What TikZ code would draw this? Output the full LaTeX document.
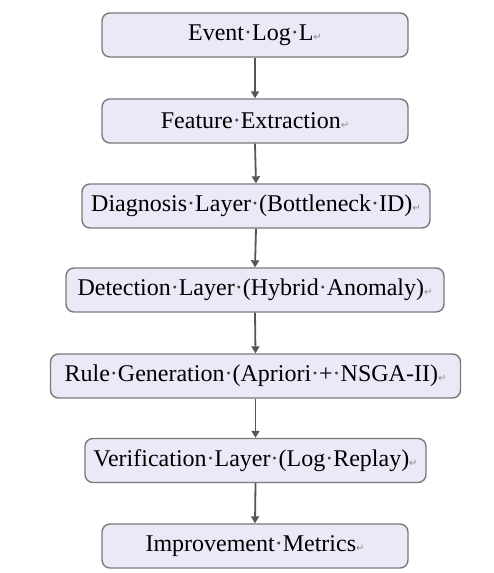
\documentclass[tikz,border=0pt]{standalone}
\usepackage{fontspec}
\setmainfont{Liberation Serif}
\newfontfamily\symf{DejaVu Sans}
\usetikzlibrary{arrows.meta}
\definecolor{boxfill}{HTML}{E9E9F7}
\definecolor{boxline}{HTML}{7A7A7A}
\definecolor{arrc}{HTML}{555555}
\newcommand{\md}{\textcolor{black!75}{·}}
\newcommand{\parmark}{{\symf\fontsize{10pt}{10pt}\selectfont\textcolor{black!45}{↵}}}
\tikzset{
  flowbox/.style={draw=boxline, line width=1.4pt, fill=boxfill, rounded corners=8pt,
    minimum height=44pt, inner sep=0pt, font=\fontsize{24pt}{27pt}\selectfont, text=black},
  flowarrow/.style={draw=arrc, line width=1.8pt, -{Triangle[length=7pt,width=8pt]}}
}
\begin{document}
\begin{tikzpicture}[x=1pt,y=1pt]
\useasboundingbox[fill=white] (0,0) rectangle (494,-573);
\node[flowbox, minimum width=306pt] (n1) at (255,-35) {Event\md Log\md L\parmark};
\node[flowbox, minimum width=306pt] (n2) at (255,-121) {Feature\md Extraction\parmark};
\node[flowbox, minimum width=348pt] (n3) at (256,-206) {Diagnosis\md Layer\md (Bottleneck\md ID)\parmark};
\node[flowbox, minimum width=378pt] (n4) at (255,-290) {Detection\md Layer\md (Hybrid\md Anomaly)\parmark};
\node[flowbox, minimum width=410pt] (n5) at (255.5,-376) {Rule\md Generation\md (Apriori\md +\md NSGA-II)\parmark};
\node[flowbox, minimum width=341pt] (n6) at (255.5,-460.5) {Verification\md Layer\md (Log\md Replay)\parmark};
\node[flowbox, minimum width=306pt] (n7) at (255,-546) {Improvement\md Metrics\parmark};
\foreach \a/\b in {n1/n2,n2/n3,n3/n4,n4/n5,n5/n6,n6/n7}
  \draw[flowarrow] (\a.south) -- (\b.north);
\end{tikzpicture}
\end{document}
